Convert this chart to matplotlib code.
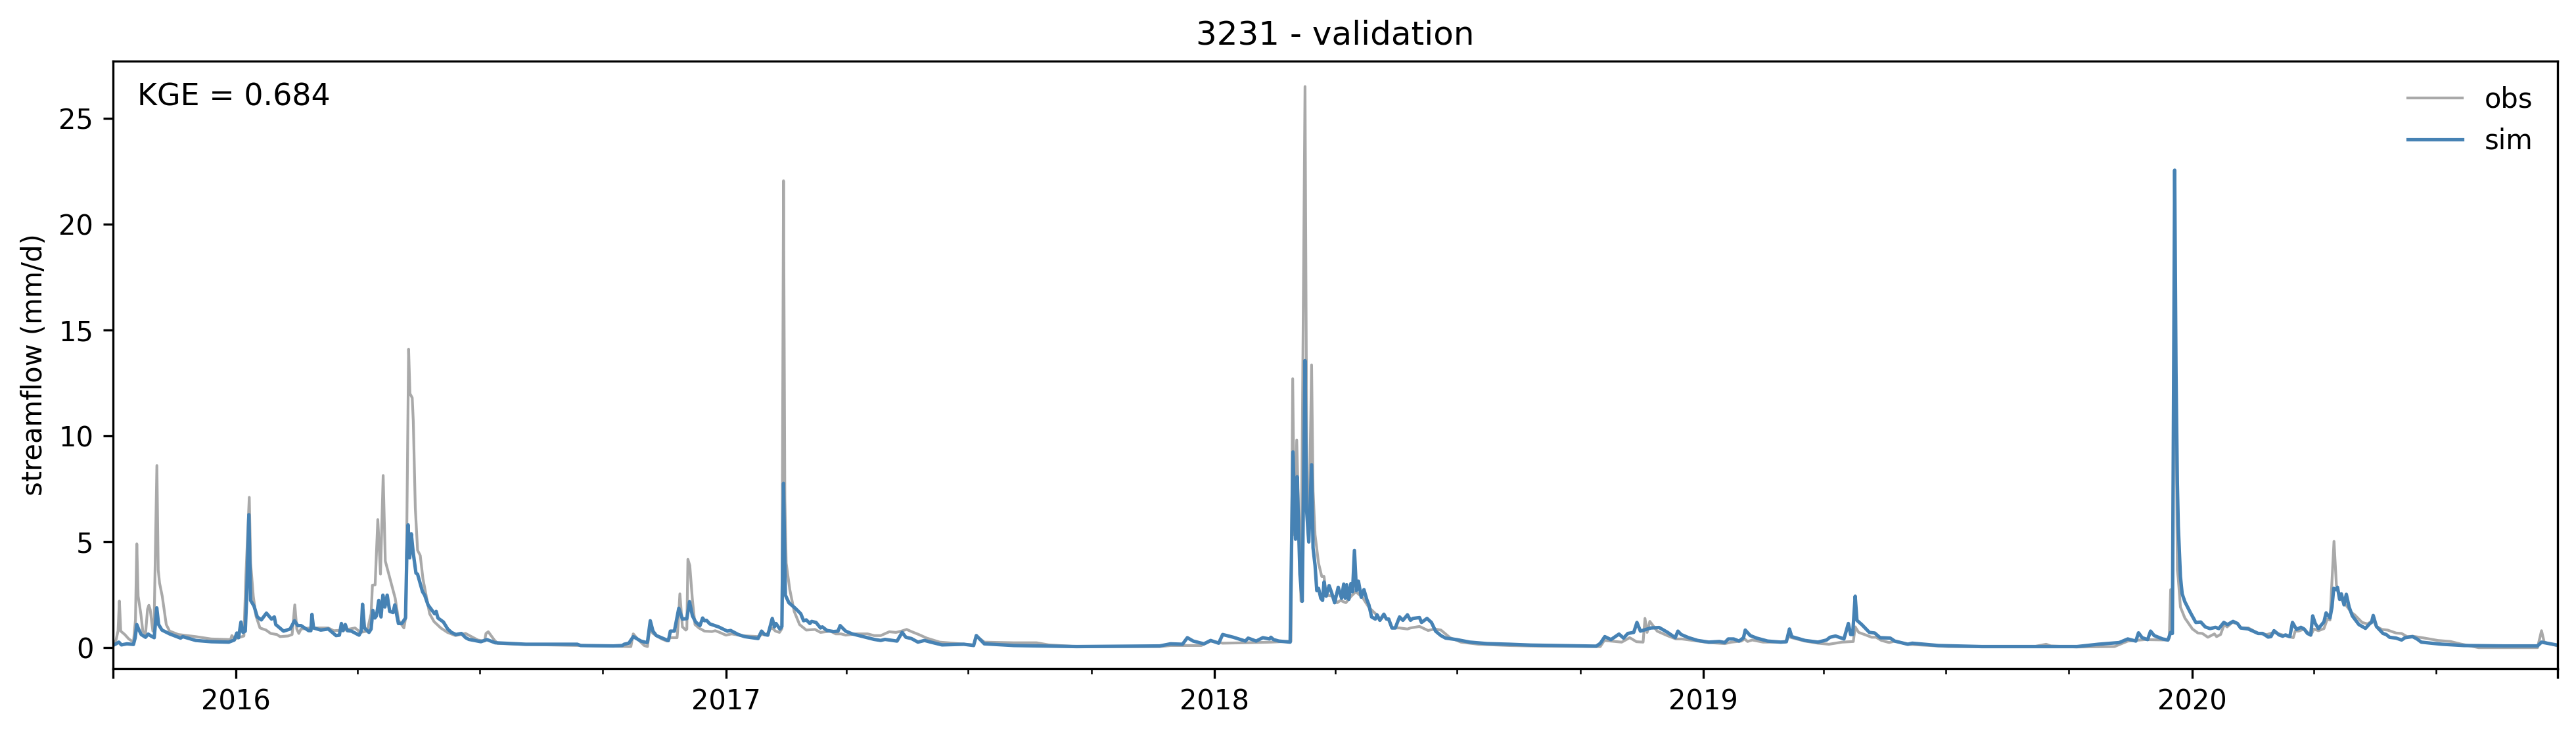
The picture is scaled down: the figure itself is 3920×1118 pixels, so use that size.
import matplotlib
matplotlib.use("Agg")
import matplotlib.pyplot as plt
import matplotlib.dates as mdates
import datetime as dt

title = "3231 - validation"
kge_label = "KGE = 0.684"
ylabel = "streamflow (mm/d)"
start_date = dt.date(2015, 10, 1)
end_date = dt.date(2020, 9, 30)
year_ticks = [2016, 2017, 2018, 2019, 2020]
y_ticks = [0, 5, 10, 15, 20, 25]

# days after start_date, and flow in mm/d
obs_days = [0, 2.5, 4, 5, 6, 9, 12, 15.5, 17, 18, 19, 21, 22.5, 24.5, 26, 27, 28, 30, 31, 33, 34, 35, 37, 40, 42.5, 49,
            62, 73.5, 88, 89, 91, 96.5, 98, 99.5, 102, 103, 105, 107, 110, 114.5, 118, 122.6, 125, 131, 134, 136, 137.5,
            139, 140.6, 147, 155, 161, 165, 173, 181, 185, 190, 193, 194, 196, 198, 200, 202, 203.6, 208, 211, 213.5,
            217.5, 219, 221, 222, 223.7, 224.5, 226, 227.7, 229.7, 231.7, 234, 236.7, 240, 245, 250, 256, 263.5, 272.7,
            277.7, 278.8, 280.5, 285, 287.5, 308, 374, 385, 387, 388.8, 392, 397, 399.4, 401, 403.5, 410, 414, 416.5,
            421.5, 422.3, 423.6, 425.5, 428, 428.8, 429.6, 431, 433, 434.9, 437.8, 442, 447.6, 450, 453.3, 458, 462.3,
            469, 473.8, 482.8, 484.4, 488.5, 491, 492.6, 495, 498, 499.8, 501, 502, 503, 505.7, 509, 513, 518, 524.5,
            528.6, 536, 540, 544, 547.4, 555.6, 563.8, 568.7, 573.6, 580, 585, 589, 593, 596.5, 602, 608, 617.7, 627.5,
            636, 643, 645, 651, 673, 690, 699, 720, 782, 790, 813, 820, 829, 846, 865, 880,
            881.3, 882.6, 884.3, 887.5, 890.5, 892, 893.3, 895.4, 896.5, 898, 900.6, 903, 904.7, 906.3, 912, 914.5, 917,
            921, 925, 928.4, 933.3, 938, 941.5, 944, 946.4, 949.4, 953, 955.4, 961, 967, 969.3, 976, 982.4, 987.3, 992,
            998.8, 1007, 1020, 1043, 1067, 1111, 1114, 1127, 1133, 1138, 1143, 1144.4, 1146, 1148, 1153.5, 1161, 1167.6,
            1172, 1183.7, 1192, 1204, 1209, 1216.4, 1218.8, 1221, 1224.5, 1232.7, 1249, 1251.5, 1254, 1263.8, 1273.6,
            1281.8, 1291.6, 1300, 1301.4, 1304, 1309.6, 1313.7, 1317, 1321, 1326.8, 1331, 1340.7, 1371, 1435, 1444,
            1447.5, 1467, 1495, 1505, 1517.7, 1535, 1536, 1537, 1538.3, 1540, 1542, 1542.7, 1544.3, 1547.6, 1553.3,
            1557.4, 1560.7, 1564.8, 1569.7, 1571.3, 1574.3, 1577, 1579.2, 1583, 1587, 1589.3, 1595, 1602.4, 1609, 1614,
            1625, 1628.6, 1630, 1632.6, 1636.7, 1641.6, 1644, 1647.4, 1651.5, 1654, 1656, 1657.5, 1659, 1660.8, 1663.7,
            1667.8, 1672, 1674.4, 1680, 1684, 1688.3, 1690.7, 1694.8, 1699, 1705.4, 1709.5, 1713.6, 1717.7, 1726.7,
            1736.5, 1746, 1753, 1767, 1811, 1814, 1816, 1825]
obs_flow = [.05, .36, .8, 2.2, .78, .62, .41, .26, 1.3, 4.9, 2.43, 1.6, .78, .62, 1.81, 2.0, 1.8, .78, 1.4, 8.6, 3.67, 3.05, 2.43, 1.09, .78, .62,
            .52, .41, .38, .57, .41, .52, .55, 3.42, 7.1, 4, 2.43, 1.5, .93, .83, .67, .62, .52, .55, .62, 2.02, .88,
            .67, .88, .93, .93, .93, .8, .83, .93, .72, .78, 1.6, 2.95, 2.97, 6.05, 3.47, 8.13, 4.09, 3.05, 2.33, 1.29,
            .93, 1.5, 14.1, 12, 11.8, 10.7, 6.6, 4.6, 4.35, 3.26, 2.5, 1.6, 1.23, .93, .72, .57, .67, .36,
            .31, .67, .75, .36, .2, .15, .07, .05, .05, .65, .41, .1, .05, .88, .67, .41, .31, .47,
            .47, 1.09, 2.54, .98, .83, .88, 4.17, 3.88, 2.23, 1.09, .93, .78, .76, .8, .72, .59, .65,
            .57, .55, .52, .62, .62, .88, .93, .78, .72, .9, 22.05, 7, 3.99, 2.74, 1.71, 1.09, .83, .86,
            .72, .78, .65, .65, .59, .65, .65, .57, .57, .75, .72, .78, .86, .76, .62, .45, .26, .21,
            .16, .13, .55, .26, .23, .23, .13, .05, .05, .1, .1, .31, .21, .23, .26, .3,
            12.7, 5.33, 9.8, 2.19, 26.5, 6.37, 4.99, 13.35, 7.4, 5.33, 3.99, 3.36, 3.36, 2.48, 2.43, 2.12, 2.23,
            2.12, 2.43, 2.64, 2.38, 1.92, 1.7, 1.55, 1.29, 1.5, 1.29, .93, .93, .88, .93, 1.0, .81, .88, .83,
            .47, .26, .16, .1, .07, .05, .34, .26, .47, .28, .26, 1.38, .72, 1.24, .78, .57, .41,
            .41, .31, .24, .19, .26, .31, .41, .29, .36, .26, .26, .52, .47, .31, .21,
            .16, .26, .29, .98, .72, .59, .49, .49, .34, .24, .31, .16, .05, .05, .16,
            .08, .03, .05, .31, .38, .36, .47, 2.74, .8, 20, 3.67, 3.26, 1.92, 1.4, .88,
            .69, .67, .49, .65, .52, .62, 1.09, .98, 1.19, 1.14, .93, .93, .67, .62, .72,
            .52, .47, .78, .78, .88, .57, .88, .8, .9, 1.35, 1.3, 3.16, 5.02, 2.95, 2.33,
            2.02, 1.66, 1.55, 1.19, 1.12, 1.29, 1.0, .86, .83, .69, .67, .52, .54, .45,
            .34, .29, .18, 0, 0, .8, .26, .1]

sim_days = [0, 2.5, 4.6, 6.5, 10.6, 15.5, 16.8, 18, 19.3, 21.3, 24.5, 26.5, 28.6, 31, 32.9, 34.3, 36.8, 42.5, 50.7, 52.3,
            62, 73.6, 86.7, 90.8, 92.7, 94, 95.8, 97.3, 99, 100, 101.7, 103, 105.5, 108, 111, 114.8, 118.6, 120.7, 121.8,
            127.6, 132.5, 135.8, 138.2, 140.7, 146.4, 148, 148.8, 150, 155.4, 161, 166.8, 169.3, 170.8, 172, 173.7, 175.3,
            178.3, 184, 185.6, 186.6, 188, 191.4, 193, 194.3, 195.8, 197, 198.7, 200.4, 201.8, 203.3, 205, 206.9, 209.4,
            210.7, 213.4, 215.9, 218.7, 219.7, 220.6, 221.8, 223, 224.4, 226.5, 227.7, 231.4, 233, 235.5, 240.4, 241.6,
            242.9, 247, 250.2, 253, 256.3, 260.4, 263.6, 266, 275, 279.5, 285.7, 308.6, 347, 349.5, 374, 380.6, 382, 385.5,
            388.8, 394.5, 398.6, 399.4, 401.5, 403.5, 406, 415, 416.5, 419.5, 422.8, 425.5, 428.8, 430.8, 433, 435.4, 438.6,
            440.6, 442, 443.5, 446, 452.5, 459, 461.5, 467.2, 472, 482, 484.6, 486.9, 489.3, 492.6, 494.2, 495.4, 498.3,
            499.8, 501, 502.4, 505, 509.8, 513.9, 516, 518, 520.7, 522, 525.3, 528.6, 530, 533.5, 538.4, 541.7, 543.3,
            547.4, 552.3, 560.5, 568.7, 573.6, 576.8, 585.8, 589.6, 592.4, 596.5, 601.4, 606.3, 611, 619.4, 635.7, 643, 645,
            651, 673, 720, 782, 790, 799, 802.6, 807, 815, 820, 826, 829, 837, 846, 848, 854, 859, 864, 865, 867, 871, 879.4,
            881.5, 883.4, 884.6, 886.7, 888.4, 890.5, 891.6, 893.3, 895.4, 896.5, 898, 899.3, 900.6, 902.3, 903.6, 904.7,
            906.3, 908.5, 910.4, 912.6, 915.3, 917.8, 919.4, 920.6, 921.6, 923.2, 924.8, 926, 927.4, 928.9, 930.4, 932.5,
            934.5, 936.6, 938.2, 940.2, 943, 944.3, 946.4, 949.4, 951.3, 953, 955.4, 957.9, 961.1, 963.6, 967, 969.3, 971,
            976, 977.5, 981.6, 984.9, 988, 992, 995.5, 1003.7, 1013.5, 1026.6, 1043, 1059, 1108, 1111, 1114.4, 1119, 1125,
            1128.4, 1131.6, 1136, 1138.4, 1141, 1148.8, 1155, 1161.3, 1167, 1169, 1171.4, 1177, 1183.7, 1192, 1200, 1204,
            1206.6, 1210.6, 1214.7, 1218, 1219.3, 1223, 1227.8, 1236, 1245.8, 1250, 1252.3, 1254, 1263.8, 1273.6, 1280,
            1282.6, 1286.7, 1293, 1296.3, 1298, 1299.5, 1301.4, 1302.7, 1306.3, 1312, 1316, 1320, 1327.6, 1330.9, 1340.7,
            1344, 1363.6, 1396, 1435, 1467, 1483, 1498.6, 1505, 1511, 1513, 1515.7, 1519.8, 1522, 1524.7, 1531, 1535, 1537,
            1538.3, 1540, 1541, 1542, 1542.7, 1544.3, 1545.6, 1547.6, 1551.7, 1555.8, 1559.5, 1562.8, 1566.4, 1570.5, 1573,
            1576.7, 1579.5, 1583.6, 1586.9, 1589.3, 1595, 1602.4, 1605.7, 1609.8, 1611.9, 1614.2, 1618, 1620.7, 1622.8, 1626,
            1628, 1631, 1634.3, 1636.7, 1639.2, 1641.6, 1643.1, 1645, 1647.4, 1651.5, 1653.1, 1656, 1657.5, 1658.8, 1660.4,
            1661.6, 1663.2, 1664.5, 1666.5, 1668.2, 1670.3, 1672.7, 1677.6, 1682.5, 1685.8, 1687, 1688.3, 1690.7, 1695.6,
            1698, 1700.5, 1705.4, 1709.5, 1712, 1717.7, 1721, 1724.2, 1731.6, 1739.8, 1756, 1786, 1811, 1814, 1818, 1825]
sim_flow = [.1, .18, .26, .13, .18, .15, .47, 1.09, .88, .62, .49, .64, .55, .47, 1.88, 1.09, .83, .65, .45, .52,
            .34, .28, .26, .36, .69, .47, 1.21, .72, .78, 2.28, 6.28, 2.23, 1.97, 1.45, 1.31, 1.63, 1.35, 1.45, 1.09,
            .78, .88, 1.27, 1.04, 1.04, .8, .8, 1.57, .93, .83, .88, .57, .59, 1.14, .8, 1.09, .8,
            .78, .59, .78, 2.05, .93, .72, .88, 1.76, 1.4, 1.5, 2.23, 1.45, 2.48, 1.92, 2.48, 1.71, 1.66,
            2.02, 1.14, 1.14, 1.4, 4.5, 5.8, 4.24, 5.38, 4.5, 3.52, 3.47, 2.64, 2.48, 2.02, 1.6, 1.71,
            1.4, 1.21, .88, .72, .62, .67, .47, .39, .28, .38, .23, .16, .16, .1, .08, .1, .16, .21,
            .52, .31, .24, .26, 1.27, .78, .57, .33, .78, .78, 1.86, 1.35, 1.37, 2.17, 1.5, 1.21, 1.04,
            1.4, 1.27, 1.29, 1.12, .98, .78, .81, .62, .52, .43, .78, .62, .59, 1.38, .98, 1.14, .88,
            1.0, 7.76, 2.48, 2.12, 1.86, 1.6, 1.27, 1.31, 1.14, 1.24, 1.19, .93, .98, .81, .76, .78, 1.04,
            .78, .65, .52, .39, .34, .39, .31, .72, .49, .43, .26, .34, .26, .13, .16, .1, .57,
            .18, .1, .05, .08, .18, .16, .47, .31, .18, .34, .21, .62, .49, .31, .45, .31, .47, .41, .49, .38, .31, .26,
            9.24, 5.12, 8.07, 3.47, 2.19, 13.56, 6.57, 4.99, 8.64, 4.71, 3.88, 2.69, 2.8, 2.33, 2.23, 3.1,
            2.43, 2.93, 2.59, 2.12, 2.85, 2.33, 3.0, 2.33, 2.97, 2.28, 3.03, 2.64, 4.59, 2.69, 3.14, 2.38,
            2.74, 2.28, 2.02, 1.45, 1.35, 1.55, 1.29, 1.58, 1.35, 1.35, .93, .93, 1.45, 1.29, 1.55, 1.29, 1.38,
            1.42, 1.19, 1.38, 1.19, .78, .57, .45, .38, .26, .19, .16, .12, .07, .2, .52, .38, .64,
            .45, .67, .72, 1.19, .78, .93, .95, .72, .47, .78, .62, .47, .34, .26, .29, .24,
            .41, .41, .31, .47, .83, .57, .45, .31, .26, .28, .88, .52, .34, .26, .36,
            .49, .55, .41, 1.14, .62, .62, 2.43, 1.29, 1.09, .72, .69, .47, .45, .31, .16,
            .21, .1, .05, .05, .05, .16, .24, .41, .31, .7, .47, .38, .78, .57, .41, .36, .72,
            .67, 22.55, 13, 7.8, 5.75, 3.36, 2.54, 2.17, 1.66, 1.19, 1.21, .98, .9, .96, .9,
            1.19, 1.09, 1.24, 1.14, .93, .88, .67, .67, .5, .52, .8, .6, .54, .6, .52,
            1.19, .86, .96, .88, .67, .6, 1.5, 1.14, .9, 1.22, 1.64, 1.4, 1.92, 2.8, 2.74,
            2.85, 2.28, 2.54, 2.02, 2.52, 1.92, 1.5, 1.09, .91, 1.14, 1.19, 1.52, 1.0, .67,
            .62, .49, .45, .36, .47, .52, .41, .26, .21, .16, .1, .08, .08, .26, .21, .13]

FIG_W, FIG_H, DPI = 3920 / 300, 1118 / 300, 300
fig = plt.figure(figsize=(FIG_W, FIG_H), dpi=DPI)
ax = fig.add_axes([171.5 / 3920, 1 - 1017 / 1118, (3892 - 171.5) / 3920, (1017 - 93) / 1118])

base = mdates.date2num(start_date)
ax.plot([base + d for d in obs_days], obs_flow, color="darkgray", lw=1.0, label="obs")
ax.plot([base + d for d in sim_days], sim_flow, color="steelblue", lw=1.25, label="sim")

ax.set_xlim(base, mdates.date2num(end_date))
ax.set_ylim(-0.99, 27.7)
ax.set_yticks(y_ticks)

major = [start_date] + [dt.date(y, 1, 1) for y in year_ticks] + [end_date]
ax.set_xticks([mdates.date2num(d) for d in major])
ax.set_xticklabels([""] + [str(y) for y in year_ticks] + [""])
minor = [dt.date(y, m, 1) for y in range(2016, 2021) for m in (4, 7, 10)
         if dt.date(y, m, 1) < end_date]
ax.set_xticks([mdates.date2num(d) for d in minor], minor=True)

ax.set_ylabel(ylabel)
ax.set_title(title, fontsize=12)
ax.text(0.01, 0.94, kge_label, transform=ax.transAxes, fontsize=11, va="center", ha="left")
ax.legend(loc="upper right", frameon=False)

fig.savefig("out.png", dpi=DPI)
